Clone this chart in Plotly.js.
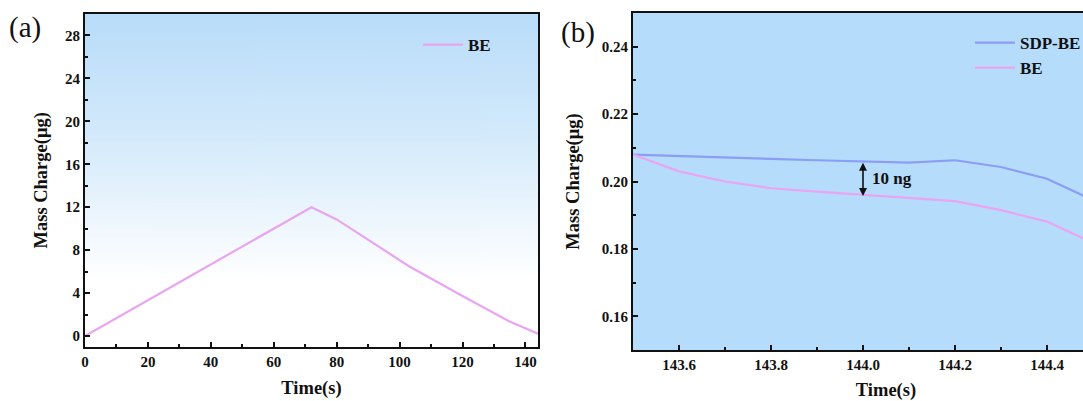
<!DOCTYPE html>
<html>
<head>
<meta charset="utf-8">
<script src="https://cdn.plot.ly/plotly-3.0.1.min.js"></script>
<style>
html,body{margin:0;padding:0;overflow:hidden;background:#fff;width:1083px;height:401px;}
#chart{width:1140px;height:401px;}
</style>
</head>
<body>
<div id="chart"></div>
<script>
// ---- Data ----
const timeA = [0, 72, 80, 103, 120, 135, 144];
const beA = [0, 12.0, 10.86, 6.5, 3.72, 1.35, 0.2];

const timeB = [143.5, 143.6, 143.7, 143.8, 143.9, 144.0, 144.1, 144.2, 144.3, 144.4, 144.5];
const sdpB = [0.2080, 0.2075, 0.2071, 0.2067, 0.2063, 0.2059, 0.2056, 0.2063, 0.2043, 0.2008, 0.1945];
const beB  = [0.2080, 0.2030, 0.2000, 0.1980, 0.1970, 0.1960, 0.1952, 0.1942, 0.1915, 0.1881, 0.1818];

const seriesNames = ['SDP-BE', 'BE'];
const panelLabels = ['(a)', '(b)'];
const gapLabel = '10 ng';
const xTitle = 'Time(s)';
const yTitle = 'Mass Charge(μg)';

// ---- Styling ----
const W = 1140, H = 401;
const FONT = 'Liberation Serif';
const pink = '#e9a5f1';
const blue = '#8b9df6';

function px(x){ return x / W; }
function py(y){ return 1 - y / H; }

const domA = {x: [px(85), px(538)], y: [py(346.7), py(14)]};
const domB = {x: [px(633), px(1139)], y: [py(350), py(13)]};

// gradient image for panel (a)
const cv = document.createElement('canvas');
cv.width = 4; cv.height = 256;
const ctx = cv.getContext('2d');
const g = ctx.createLinearGradient(0, 0, 0, 256);
g.addColorStop(0, '#b9dcf9');
g.addColorStop(0.35, '#d2e9fb');
g.addColorStop(0.8, '#ffffff');
g.addColorStop(1, '#ffffff');
ctx.fillStyle = g; ctx.fillRect(0, 0, 4, 256);
const gradURL = cv.toDataURL();

const tickFont = {family: FONT, size: 15, color: '#111', weight: 700};
const titleFont = {family: FONT, size: 18.5, color: '#111', weight: 700};

function axisBase(extra){
  return Object.assign({
    showline: true, linecolor: '#111', linewidth: 2, mirror: true,
    ticks: 'inside', ticklen: 5, tickwidth: 2, tickcolor: '#111',
    showgrid: false, zeroline: false, tickfont: tickFont,
    fixedrange: true
  }, extra);
}

const traces = [
  {x: timeA, y: beA, type: 'scatter', mode: 'lines', name: seriesNames[1],
   line: {color: pink, width: 2.2}, xaxis: 'x', yaxis: 'y', legend: 'legend'},
  {x: timeB, y: sdpB, type: 'scatter', mode: 'lines', name: seriesNames[0],
   line: {color: blue, width: 2.2}, xaxis: 'x2', yaxis: 'y2', legend: 'legend2'},
  {x: timeB, y: beB, type: 'scatter', mode: 'lines', name: seriesNames[1],
   line: {color: pink, width: 2.2}, xaxis: 'x2', yaxis: 'y2', legend: 'legend2'}
];

const legendFont = {family: FONT, size: 17, color: '#111', weight: 700};

const layout = {
  width: W, height: H,
  margin: {l: 0, r: 0, t: 0, b: 0},
  font: {family: FONT},
  paper_bgcolor: '#ffffff',
  plot_bgcolor: 'rgba(0,0,0,0)',
  showlegend: true,
  xaxis: axisBase({domain: domA.x, range: [0, 144], dtick: 20, tick0: 0,
    minor: {ticks: 'inside', ticklen: 3, dtick: 10, tickwidth: 2, tickcolor: '#111'},
    anchor: 'y', title: {text: xTitle, font: titleFont, standoff: 12}}),
  yaxis: axisBase({domain: domA.y, range: [-1, 30], dtick: 4, tick0: 0,
    minor: {ticks: 'inside', ticklen: 3, dtick: 2, tickwidth: 2, tickcolor: '#111'},
    anchor: 'x', title: {text: yTitle, font: titleFont, standoff: 13}}),
  xaxis2: axisBase({domain: domB.x, range: [143.5, 144.6], dtick: 0.2, tick0: 143.6,
    tickformat: '.1f',
    minor: {ticks: 'inside', ticklen: 3, dtick: 0.1, tickwidth: 2, tickcolor: '#111'},
    anchor: 'y2', title: {text: xTitle, font: titleFont, standoff: 14}}),
  yaxis2: axisBase({domain: domB.y, range: [0.15, 0.25], dtick: 0.02, tick0: 0.16,
    tickformat: '.2f',
    minor: {ticks: 'inside', ticklen: 3, dtick: 0.01, tickwidth: 2, tickcolor: '#111'},
    anchor: 'x2', title: {text: yTitle, font: titleFont, standoff: 17}}),
  legend: {x: px(418), y: py(27), xanchor: 'left', yanchor: 'top',
    bgcolor: 'rgba(0,0,0,0)', font: legendFont, itemwidth: 40},
  legend2: {x: px(970), y: py(25), xanchor: 'left', yanchor: 'top',
    bgcolor: 'rgba(0,0,0,0)', font: legendFont, itemwidth: 40, tracegroupgap: 0},
  images: [{source: gradURL, xref: 'paper', yref: 'paper',
    x: domA.x[0], y: domA.y[1], sizex: domA.x[1] - domA.x[0], sizey: domA.y[1] - domA.y[0],
    xanchor: 'left', yanchor: 'top', sizing: 'stretch', layer: 'below'}],
  shapes: [{type: 'rect', xref: 'x2 domain', yref: 'y2 domain', x0: 0, x1: 1, y0: 0, y1: 1,
    fillcolor: '#b6dcfb', line: {width: 0}, layer: 'below'}],
  annotations: [
    {text: panelLabels[0], xref: 'paper', yref: 'paper', x: px(7), y: py(27),
     xanchor: 'left', yanchor: 'middle', showarrow: false,
     font: {family: FONT, size: 29, color: '#111'}},
    {text: panelLabels[1], xref: 'paper', yref: 'paper', x: px(559), y: py(32),
     xanchor: 'left', yanchor: 'middle', showarrow: false,
     font: {family: FONT, size: 29, color: '#111'}},
    {text: '', xref: 'x2', yref: 'y2', x: 144.0, y: 0.1957, axref: 'x2', ayref: 'y2',
     ax: 144.0, ay: 0.2060, showarrow: true, arrowhead: 2, arrowside: 'end+start',
     arrowsize: 1, arrowwidth: 1.6, arrowcolor: '#111', standoff: 0, startstandoff: 0},
    {text: gapLabel, xref: 'x2', yref: 'y2', x: 144.015, y: 0.2008,
     xanchor: 'left', yanchor: 'middle', showarrow: false,
     font: {family: FONT, size: 17, color: '#111', weight: 700}}
  ]
};

Plotly.newPlot('chart', traces, layout, {staticPlot: true, displayModeBar: false});
</script>
</body>
</html>
